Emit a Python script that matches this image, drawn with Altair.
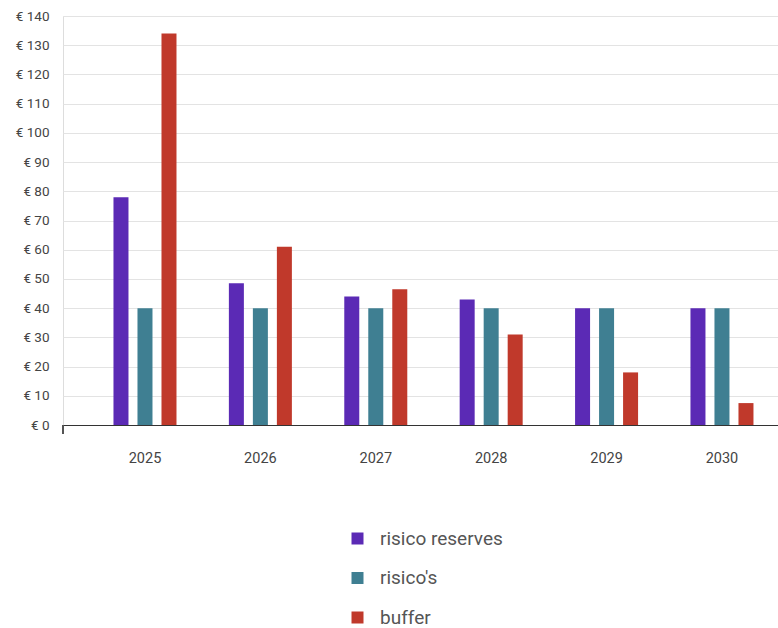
import altair as alt
import pandas as pd

years = ["2025", "2026", "2027", "2028", "2029", "2030"]
series_names = ["risico reserves", "risico's", "buffer"]
risico_reserves = [78, 48.5, 44, 43, 40, 40]
risicos = [40, 40, 40, 40, 40, 40]
buffer = [134, 61, 46.5, 31, 18, 7.5]
colors = ["#5b2ab5", "#3f7f92", "#c0392b"]
y_ticks = list(range(0, 141, 10))

rows = []
for name, vals in zip(series_names, [risico_reserves, risicos, buffer]):
    for y, v in zip(years, vals):
        rows.append({"year": y, "series": name, "value": v})
df = pd.DataFrame(rows)

FONT = "Roboto"

bars = alt.Chart(df).mark_bar().encode(
    x=alt.X("year:N", sort=years, title=None,
            scale=alt.Scale(paddingInner=0.454, paddingOuter=0.325, align=0.673),
            axis=alt.Axis(labelAngle=0, ticks=False, domain=True, domainColor="#333333",
                          domainWidth=1, labelPadding=26, labelFont=FONT, labelFontSize=14.5,
                          labelColor="#444444", grid=False)),
    xOffset=alt.XOffset("series:N", sort=series_names,
                        scale=alt.Scale(paddingInner=0.375, paddingOuter=0)),
    y=alt.Y("value:Q", title=None,
            scale=alt.Scale(domain=[0, 140], nice=False),
            axis=alt.Axis(values=y_ticks, labelExpr="'€ ' + datum.value", ticks=False,
                          domain=False, labelPadding=14, labelFont=FONT, labelFontSize=13.5,
                          labelColor="#444444", gridColor="#e3e3e3", gridWidth=1)),
    color=alt.Color("series:N", sort=series_names,
                    scale=alt.Scale(domain=series_names, range=colors),
                    legend=alt.Legend(title=None, orient="none", legendX=285, legendY=513,
                                      direction="vertical", symbolType="square",
                                      symbolSize=144, symbolStrokeWidth=0,
                                      labelFont=FONT, labelFontSize=19,
                                      labelColor="#555555", labelOffset=13,
                                      rowPadding=19.5, padding=0)),
)

corner = alt.Chart(df).mark_rule(color="#555555", strokeWidth=1.5).encode(
    x=alt.value(0), y=alt.value(409), y2=alt.value(418)
)

chart = alt.layer(bars, corner).properties(
    width=715, height=409,
    autosize=alt.AutoSizeParams(type="none"),
    padding={"left": 63, "top": 16, "right": 0, "bottom": 203},
).configure_view(stroke=None).configure(background="white")

chart.save("out.html", embed_options={"renderer": "svg", "actions": False})
